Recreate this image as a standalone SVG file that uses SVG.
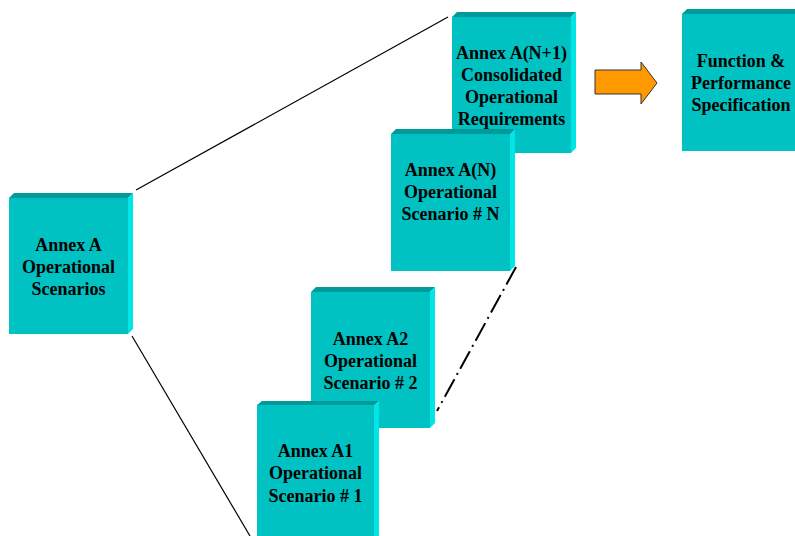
<svg xmlns="http://www.w3.org/2000/svg" width="795" height="536" viewBox="0 0 795 536">
<defs>
<style>
.front{fill:#00C2C2}
.top{fill:#009A9A}
.side{fill:#00E6E6}
.lbl{font-family:"Liberation Serif","Times New Roman",serif;font-weight:bold;font-size:18px;fill:#000;text-anchor:middle}
.ln{stroke:#000;stroke-width:1.2;fill:none}
.dd{stroke:#000;stroke-width:2;fill:none;stroke-dasharray:20 5 2 5}
</style>
</defs>
<rect width="795" height="536" fill="#fff"/>
<g id="connectors">
<line class="ln" x1="136" y1="190" x2="448" y2="17"/>
<line class="ln" x1="132" y1="336" x2="250" y2="536"/>
<line class="dd" x1="516" y1="267" x2="437" y2="411"/>
<polygon points="595,70 641,70 641,62 657,83 641,104 641,94 595,94" fill="#FF9900" stroke="#333" stroke-width="1"/>
</g>
<g id="annexA">
<polygon class="top" points="9,198 14,193 133,193 128,198"/>
<polygon class="side" points="128,198 133,193 133,329 128,334"/>
<rect class="front" x="9" y="198" width="119" height="136"/>
<text class="lbl" x="68.5" y="251">Annex A</text>
<text class="lbl" x="68.5" y="273">Operational</text>
<text class="lbl" x="68.5" y="295">Scenarios</text>
</g>
<g id="annexN1">
<polygon class="top" points="452,17 457,12 576,12 571,17"/>
<polygon class="side" points="571,17 576,12 576,148 571,153"/>
<rect class="front" x="452" y="17" width="119" height="136"/>
<text class="lbl" x="511.5" y="59">Annex A(N+1)</text>
<text class="lbl" x="511.5" y="81">Consolidated</text>
<text class="lbl" x="511.5" y="103">Operational</text>
<text class="lbl" x="511.5" y="125">Requirements</text>
</g>
<g id="annexN">
<polygon class="top" points="391,134 396,129 515,129 510,134"/>
<polygon class="side" points="510,134 515,129 515,266 510,271"/>
<rect class="front" x="391" y="134" width="119" height="137"/>
<text class="lbl" x="450.5" y="176">Annex A(N)</text>
<text class="lbl" x="450.5" y="198">Operational</text>
<text class="lbl" x="450.5" y="220">Scenario # N</text>
</g>
<g id="annexA2">
<polygon class="top" points="311,292 316,287 435,287 430,292"/>
<polygon class="side" points="430,292 435,287 435,423 430,428"/>
<rect class="front" x="311" y="292" width="119" height="136"/>
<text class="lbl" x="370.5" y="345">Annex A2</text>
<text class="lbl" x="370.5" y="367">Operational</text>
<text class="lbl" x="370.5" y="389">Scenario # 2</text>
</g>
<g id="annexA1">
<polygon class="top" points="257,405 262,401 379,401 374,405"/>
<polygon class="side" points="374,405 379,401 379,540 374,540"/>
<rect class="front" x="257" y="405" width="117" height="135"/>
<text class="lbl" x="315.5" y="457">Annex A1</text>
<text class="lbl" x="315.5" y="479">Operational</text>
<text class="lbl" x="315.5" y="502">Scenario # 1</text>
</g>
<g id="funcSpec">
<polygon class="top" points="682,14 687,9 806,9 801,14"/>
<rect class="front" x="682" y="14" width="119" height="137"/>
<text class="lbl" x="741" y="67">Function &amp;</text>
<text class="lbl" x="741" y="89">Performance</text>
<text class="lbl" x="741" y="111">Specification</text>
</g>
</svg>
